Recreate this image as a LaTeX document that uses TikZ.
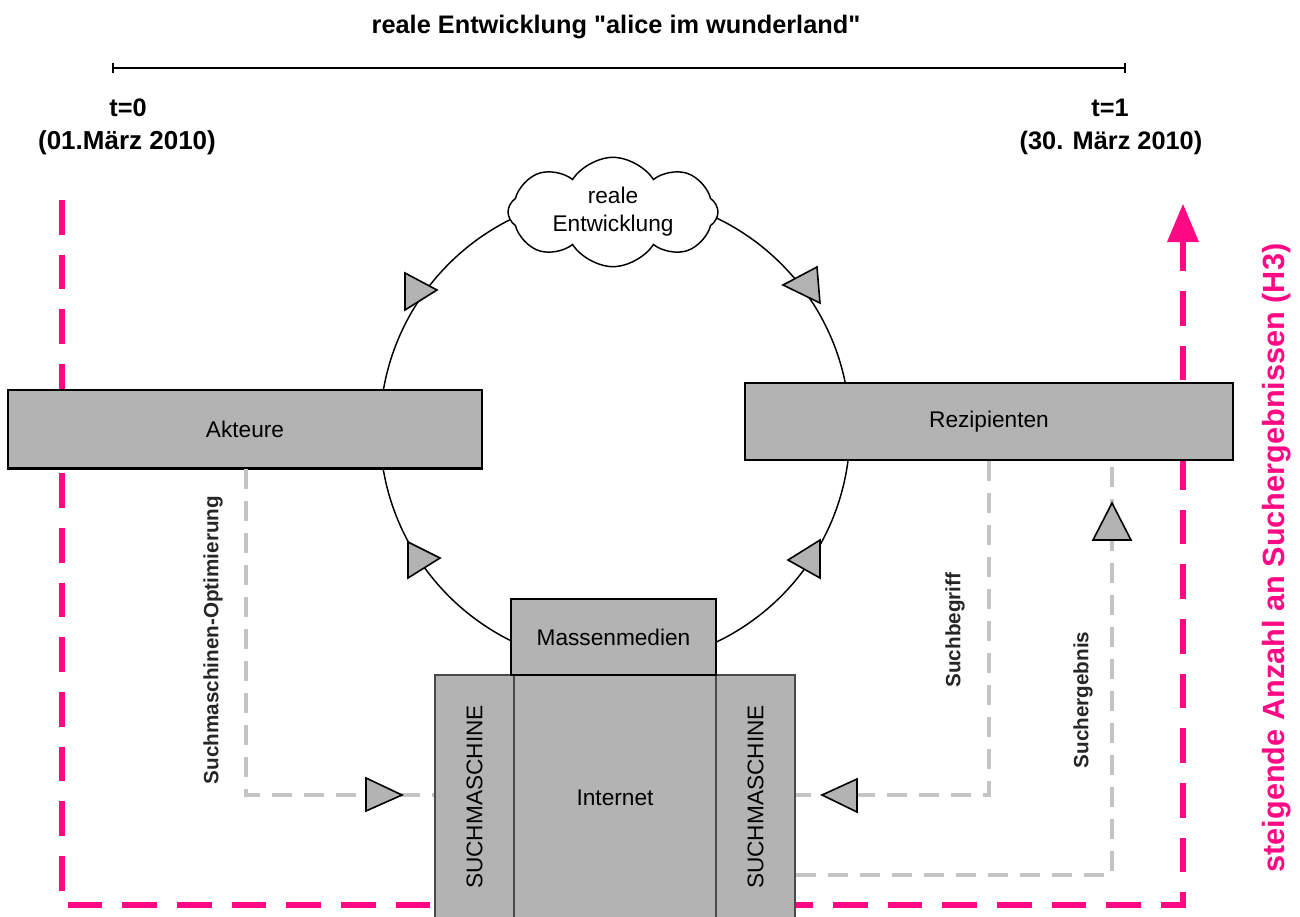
\documentclass[tikz,border=0pt]{standalone}
\usepackage{fontspec}
\setmainfont{Liberation Sans}[Ligatures=TeXOff]
\usetikzlibrary{shapes.symbols}
\definecolor{boxgray}{HTML}{B3B3B3}
\definecolor{dashgray}{HTML}{C4C4C4}
\definecolor{hotpink}{HTML}{FF0A84}
\definecolor{edgegray}{HTML}{4A4A4A}
\begin{document}
\begin{tikzpicture}[x=0.75pt,y=-0.75pt,
  box/.style={draw=black,line width=1.1pt,fill=boxgray,inner sep=0pt,
    font=\fontsize{17}{20}\selectfont},
  column/.style={box,draw=edgegray,line width=1.5pt},
  headlabel/.style={font=\bfseries\fontsize{19}{22}\selectfont,inner sep=0pt},
  sidelabel/.style={font=\bfseries\fontsize{15.5}{18}\selectfont,rotate=90,inner sep=0pt,text=black!85},
  graydash/.style={dashgray,line width=2.4pt,dash pattern=on 15pt off 9pt},
  pinkdash/.style={hotpink,line width=4.6pt,dash pattern=on 26pt off 15pt},
  flowtip/.style={draw=black,line width=1.2pt,fill=boxgray,line join=miter},
  cycle/.style={black,line width=1.1pt}]
\useasboundingbox (0,0) rectangle (1300,917);

% time axis
\node[headlabel] (title) at (616,27) {reale Entwicklung "alice im wunderland"};
\coordinate (t0) at (113,68);
\coordinate (t1) at (1125,68);
\draw[line width=1.6pt] (t0) -- (t1);
\draw[line width=1.6pt] ([yshift=-4pt]t0) -- ([yshift=4pt]t0);
\draw[line width=1.6pt] ([yshift=-4pt]t1) -- ([yshift=4pt]t1);
\node[headlabel] (t0a) at (128,108) {t=0};
\node[headlabel,font=\bfseries\fontsize{19.5}{22}\selectfont] (t0b) at (127,143) {(01.März 2010)};
\node[headlabel] (t1a) at (1110,108) {t=1};
\node[headlabel] (t1b) at (1111,143) {(30. März 2010)};

% development cycle
\coordinate (ctr) at (615,430);
\draw[cycle] (ctr) circle[radius=176.25pt];

% increasing number of search results
\coordinate (p0) at (62,200);
\coordinate (p1) at (62,905);
\coordinate (p2) at (1183,905);
\coordinate (p3) at (1183,240);
\draw[pinkdash] (p0) -- (p1) -- (p2) -- (p3);
\fill[hotpink] (1183,204) -- (1199,242) -- (1167,242) -- cycle;

% boxes
\node[box,minimum width=355.5pt,minimum height=58.5pt] (ak) at (245,429) {Akteure};
\draw[line width=2pt] (ak.south west) -- (ak.south east);
\node[box,minimum width=366pt,minimum height=57.75pt] (rz) at (989,421.5) {Rezipienten};
\node[column,minimum width=59.25pt,minimum height=187.5pt] (sml) at (474.5,800) {};
\node[column,minimum width=151.5pt,minimum height=187.5pt] (net) at (615,800) {};
\node[column,minimum width=59.25pt,minimum height=187.5pt] (smr) at (755.5,800) {};
\node[box,minimum width=153.75pt,minimum height=57pt] (mm) at (613.5,637) {Massenmedien};
\node[font=\fontsize{17}{20}\selectfont] at (615,798) {Internet};
\node[font=\fontsize{17}{20}\selectfont,rotate=90] at (474.5,797) {SUCHMASCHINE};
\node[font=\fontsize{17}{20}\selectfont,rotate=90] at (755.5,797) {SUCHMASCHINE};

% cloud
\node[cloud,cloud ignores aspect,draw=black,line width=1.1pt,fill=white,cloud puffs=8,cloud puff arc=115,
  minimum width=157.5pt,minimum height=82pt,align=center,inner sep=0pt,
  font=\fontsize{17}{21}\selectfont] (cl) at (613,212) {reale\\Entwicklung};

% arrowheads on the cycle
\filldraw[flowtip] (405,273) -- (437,290) -- (405,310) -- cycle;
\filldraw[flowtip] (817,267) -- (783,285) -- (820,303) -- cycle;
\filldraw[flowtip] (408,542) -- (440,558) -- (408,578) -- cycle;
\filldraw[flowtip] (820,540) -- (788,560) -- (820,578) -- cycle;

% search engine optimisation
\coordinate (b1) at (246,795);
\draw[graydash] (ak.south -| b1) -- (b1) -- (b1 -| sml.west);
\filldraw[flowtip] (366,778) -- (402,795) -- (366,811) -- cycle;
\node[sidelabel] (opt) at (213,640) {Suchmaschinen-Optimierung};

% search term
\coordinate (b2) at (989,795);
\draw[graydash] (rz.south -| b2) -- (b2) -- (b2 -| smr.east);
\filldraw[flowtip] (857,779) -- (822,795) -- (857,812) -- cycle;
\node[sidelabel] (term) at (955,630) {Suchbegriff};

% search result
\coordinate (b3) at (1112,875);
\draw[graydash] (b3 -| smr.east) -- (b3) -- (b3 |- rz.south);
\filldraw[flowtip] (1093,540) -- (1112,503) -- (1131,540) -- cycle;
\node[sidelabel] (res) at (1083,700) {Suchergebnis};

\node[font=\bfseries\fontsize{23}{26}\selectfont,rotate=90,text=hotpink,inner sep=0pt] (h3)
  at (1277,558) {steigende Anzahl an Suchergebnissen (H3)};
\end{tikzpicture}
\end{document}
